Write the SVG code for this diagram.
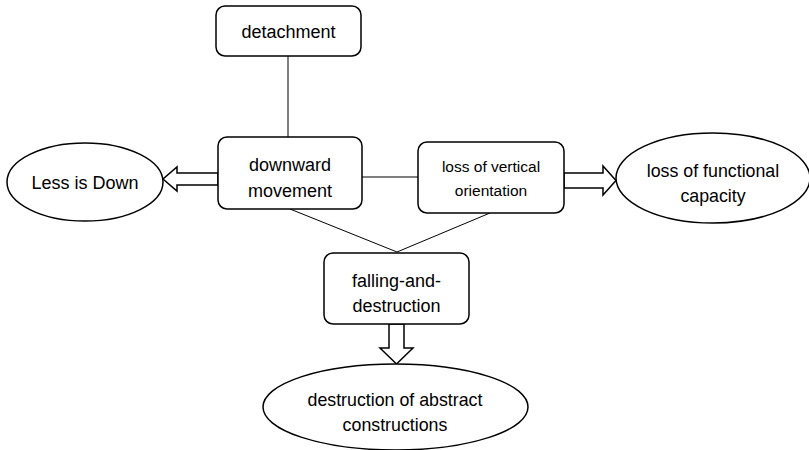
<svg xmlns="http://www.w3.org/2000/svg" width="809" height="450" viewBox="0 0 809 450">
<style>
.box{fill:#fff;stroke:#000;stroke-width:1.5}
.ell{fill:#fff;stroke:#000;stroke-width:1.5}
.ln{stroke:#000;stroke-width:1;fill:none}
.arr{fill:#fff;stroke:#000;stroke-width:1.5;stroke-linejoin:miter}
text{font-family:"Liberation Sans",Arial,sans-serif;fill:#000;text-anchor:middle}
.t18{font-size:18px}
.t17{font-size:17.8px}
.t15{font-size:15.5px}
</style>
<rect width="809" height="450" fill="#fff"/>
<g id="connectors">
<line class="ln" x1="288" y1="56" x2="288" y2="137"/>
<line class="ln" x1="362" y1="177" x2="418" y2="177"/>
<line class="ln" x1="290" y1="209" x2="397" y2="252"/>
<line class="ln" x1="490" y1="213" x2="397" y2="252"/>
<polygon class="arr" points="218,173 177,173 177,167 163,179 177,191 177,185 218,185"/>
<polygon class="arr" points="564,173 603,173 603,166 616,180.5 603,195 603,188 564,188"/>
<polygon class="arr" points="389,324 404,324 404,348 413,348 396.5,364 380,348 389,348"/>
</g>
<g id="detachment">
<rect class="box" x="216" y="6" width="145" height="50" rx="9"/>
<text class="t18" x="288.5" y="38">detachment</text>
</g>
<g id="downward">
<rect class="box" x="218" y="137" width="144" height="72" rx="9"/>
<text class="t18" x="290" y="171">downward</text>
<text class="t18" x="290" y="197">movement</text>
</g>
<g id="lessdown">
<ellipse class="ell" cx="85" cy="182" rx="78" ry="39"/>
<text class="t18" x="85" y="189">Less is Down</text>
</g>
<g id="lossvertical">
<rect class="box" x="418" y="142" width="146" height="71" rx="9"/>
<text class="t15" x="491" y="172">loss of vertical</text>
<text class="t15" x="491" y="196">orientation</text>
</g>
<g id="lossfunctional">
<ellipse class="ell" cx="713" cy="178" rx="97" ry="45"/>
<text class="t17" x="713" y="177">loss of functional</text>
<text class="t17" x="713" y="202">capacity</text>
</g>
<g id="falling">
<rect class="box" x="324" y="253" width="145" height="71" rx="9"/>
<text class="t18" x="396.5" y="287">falling-and-</text>
<text class="t18" x="396.5" y="312">destruction</text>
</g>
<g id="destruction">
<ellipse class="ell" cx="395.5" cy="407" rx="132.5" ry="43"/>
<text class="t17" x="395" y="406">destruction of abstract</text>
<text class="t17" x="395" y="431">constructions</text>
</g>
</svg>
